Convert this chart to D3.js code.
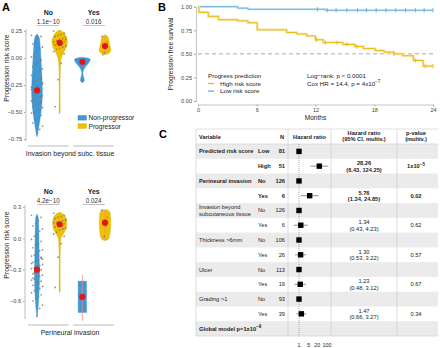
<!DOCTYPE html>
<html><head><meta charset="utf-8">
<script src="https://cdn.jsdelivr.net/npm/d3@7"></script>
<style>
body{margin:0;background:#fff}
svg{font-family:"Liberation Sans",Arial,sans-serif}
</style></head><body>
<script>
// ---------- panel A data ----------
const groupsA = ["No", "Yes"];
const classes = ["Non-progressor", "Progressor"];
const pInvasion = ["1.1e\u221210", "0.016"];
const pPerineural = ["4.2e\u221210", "0.024"];

// violin outlines: [score, relative width]
const invNoNonShape = [[0.22,0],[0.2,0.45],[0.1,0.6],[0,0.72],[-0.1,0.82],[-0.2,0.92],[-0.3,1],[-0.4,0.95],[-0.5,0.75],[-0.6,0.45],[-0.7,0.15],[-0.73,0]];
const invNoProShape = [[0.26,0],[0.24,0.5],[0.2,0.85],[0.15,1],[0.1,0.9],[0.05,0.45],[0,0.18],[-0.05,0.1],[-0.15,0.07],[-0.3,0.05],[-0.45,0.06],[-0.5,0.08],[-0.52,0]];
const invYesNonShape = [[0.005,0],[0.0,0.85],[-0.02,1],[-0.05,0.7],[-0.08,0.35],[-0.12,0.08],[-0.14,0.04],[-0.18,0.15],[-0.21,0.3],[-0.23,0]];
const invYesProShape = [[0.215,0],[0.2,0.55],[0.15,0.65],[0.1,0.85],[0.07,1],[0.045,0.8],[0.03,0]];
const perNoNonShape = [[0.23,0],[0.21,0.6],[0.1,0.65],[0,0.75],[-0.1,0.8],[-0.2,0.85],[-0.3,1],[-0.4,0.95],[-0.5,0.85],[-0.6,0.6],[-0.7,0.3],[-0.76,0]];
const perNoProShape = [[0.25,0],[0.23,0.6],[0.2,0.9],[0.15,1],[0.1,0.95],[0.05,0.6],[0.02,0.3],[0,0.14],[-0.1,0.09],[-0.2,0.07],[-0.35,0.06],[-0.47,0.07],[-0.5,0.1],[-0.52,0]];
const perYesNonShape = [[-0.41,1],[-0.71,1]];
const perYesProShape = [[0.275,0],[0.27,0.9],[0.2,0.95],[0.15,1],[0.08,0.95],[0.02,0.8],[-0.015,0.6],[-0.02,0]];

// individual scores (grey dots)
const invNoNonPts = [0.21,0.2,0.18,0.15,0.13,0.1,0.08,0.05,0.03,0.01,-0.02,-0.04,-0.06,-0.08,-0.1,-0.11,-0.13,-0.15,-0.16,-0.18,-0.2,-0.21,-0.22,-0.24,-0.25,-0.26,-0.28,-0.29,-0.3,-0.31,-0.32,-0.33,-0.35,-0.36,-0.37,-0.38,-0.4,-0.41,-0.42,-0.43,-0.45,-0.46,-0.47,-0.48,-0.5,-0.51,-0.53,-0.55,-0.57,-0.6,-0.63,-0.66,-0.7,-0.35,-0.27,-0.19,-0.44,-0.05,-0.39,-0.23];
const invNoProPts = [0.25,0.23,0.22,0.21,0.2,0.19,0.18,0.17,0.16,0.15,0.15,0.14,0.13,0.12,0.11,0.1,0.09,0.08,0.06,0.04,-0.05,-0.2,-0.45,0.17,0.13];
const invYesNonPts = [-0.01,-0.03,-0.21];
const invYesProPts = [0.2,0.15,0.1,0.05,0.03];
const perNoNonPts = [0.22,0.2,0.17,0.14,0.12,0.09,0.07,0.04,0.02,-0.01,-0.03,-0.05,-0.07,-0.09,-0.11,-0.12,-0.14,-0.16,-0.17,-0.19,-0.21,-0.22,-0.23,-0.25,-0.26,-0.27,-0.28,-0.29,-0.3,-0.31,-0.32,-0.34,-0.35,-0.36,-0.37,-0.39,-0.4,-0.41,-0.43,-0.44,-0.45,-0.46,-0.48,-0.49,-0.5,-0.52,-0.54,-0.56,-0.58,-0.6,-0.64,-0.67,-0.74,-0.33,-0.24,-0.18,-0.42,-0.06,-0.38,-0.2];
const perNoProPts = [0.24,0.22,0.21,0.2,0.19,0.18,0.17,0.16,0.15,0.15,0.14,0.13,0.12,0.11,0.1,0.09,0.08,0.06,0.04,0.02,-0.05,-0.18,-0.47,0.17,0.12];
const perYesNonPts = [-0.45,-0.66];
const perYesProPts = [0.27,0.2,0.12,0.02,0.15];

const invMeans = [-0.30, 0.14, -0.035, 0.11];
const perMeans = [-0.30, 0.135, -0.56, 0.15];
const perErrLo = [null, null, -0.79, -0.02];
const perErrHi = [null, null, -0.35, 0.27];
const invErrLo = [null, null, null, 0.03];
const invErrHi = [null, null, null, 0.2];

// ---------- panel B data ----------
const kmHighTime = [0, 0.1, 1.05, 2.1, 4.05, 5.1, 6.05, 9.05, 10.1, 11.1, 12, 12.8, 14.8, 16, 16.9, 18.1, 19, 20, 20.9, 22, 23, 24];
const kmHighSurv = [1, 0.94, 0.897, 0.862, 0.85, 0.83, 0.755, 0.727, 0.71, 0.69, 0.65, 0.62, 0.6, 0.578, 0.556, 0.535, 0.518, 0.5, 0.48, 0.43, 0.37, 0.37];
const kmHighCens = [12.1, 13, 14.2, 15.2, 16.2, 20, 22.2, 23.2, 24];
const kmLowTime = [0, 4.05, 5.1, 13, 24];
const kmLowSurv = [1, 0.985, 0.973, 0.963, 0.963];
const kmLowCens = [12.2, 13.2, 14.1, 15.2, 16.3, 17.2, 18.2, 19.2, 20.2, 21.2, 22.2, 23.1, 24];
const monthTicks = [0, 6, 12, 18, 24];
const survTicks = [0, 0.25, 0.5, 0.75, 1];

// ---------- panel C data ----------
const hrVars = ["Predicted risk score", "Perineural invasion", "Invasion beyond|subcutaneous tissue", "Thickness >6mm", "Ulcer", "Grading >1"];
const hrLevels = [["Low","High"],["No","Yes"],["No","Yes"],["No","Yes"],["No","Yes"],["No","Yes"]];
const hrN = [[81,51],[126,6],[126,6],[106,26],[113,19],[93,39]];
const hrEst = [28.26, 5.76, 1.34, 1.30, 1.23, 1.47];
const hrLo = [6.43, 1.34, 0.43, 0.53, 0.48, 0.66];
const hrHi = [124.25, 24.85, 4.23, 3.22, 3.12, 3.27];
const hrP = [["1x10", "\u22125"], ["0.02"], ["0.62"], ["0.57"], ["0.67"], ["0.34"]];
const hrBold = [true, true, false, false, false, false];
const hrTicks = [1, 5, 20, 100];

const BLUE = "#3d9ad8", YELLOW = "#efc000", RED = "#e3161d";

const svg = d3.select("body").append("svg").attr("width", 440).attr("height", 348);

// ================= panel A =================
const subs = ["No|Non","No|Pro","Yes|Non","Yes|Pro"];
const xA = d3.scalePoint().domain(subs).range([37, 105]);
// jitter half-widths per violin (No groups wider)
const jitterW = [5.5, 6, 3, 3];

function violinPanel(opt) {
  const g = svg.append("g");
  const y = d3.scaleLinear().domain(opt.domain).range(opt.range);
  // axis
  const ax = g.append("g").attr("transform", `translate(${opt.axisX},0)`)
    .call(d3.axisLeft(y).tickValues(opt.ticks).tickFormat(d3.format(opt.fmt)).tickSize(2).tickPadding(2));
  ax.select(".domain").remove();
  ax.selectAll(".tick line").attr("stroke", "#aaa");
  ax.selectAll("text").attr("font-size", 5.6).attr("fill", "#444");
  g.append("line").attr("x1", opt.axisX).attr("x2", opt.axisX)
    .attr("y1", opt.axisTop).attr("y2", opt.axisBot).attr("stroke", "#c8c8c8").attr("stroke-width", 1.2);
  g.append("text").attr("transform", `translate(9,${opt.titleY}) rotate(-90)`)
    .attr("text-anchor", "middle").attr("font-size", 6.8).attr("fill", "#222").text("Progression risk score");

  // group headers, brackets, base lines
  groupsA.forEach((grp, gi) => {
    const x0 = xA(grp + "|Non"), x1 = xA(grp + "|Pro");
    const cx = (x0 + x1) / 2;
    g.append("text").attr("x", cx).attr("y", opt.headY).attr("text-anchor", "middle")
      .attr("font-size", 7).attr("font-weight", "bold").attr("fill", "#222").text(grp);
    g.append("text").attr("x", cx).attr("y", opt.headY + 8.5).attr("text-anchor", "middle")
      .attr("font-size", 6.3).attr("fill", "#333").text(opt.pvals[gi]);
    g.append("line").attr("x1", x0).attr("x2", x1).attr("y1", opt.headY + 10.5).attr("y2", opt.headY + 10.5)
      .attr("stroke", "#999").attr("stroke-width", 0.6);
    g.append("line").attr("x1", x0 - 9).attr("x2", x1 + 9).attr("y1", opt.baseY).attr("y2", opt.baseY)
      .attr("stroke", "#bbb").attr("stroke-width", 1);
  });
  g.append("text").attr("x", 70).attr("y", opt.baseY + 9.5).attr("text-anchor", "middle")
    .attr("font-size", 6.9).attr("fill", "#222").text(opt.xTitle);

  opt.shapes.forEach((shape, i) => {
    const cx = xA(subs[i]);
    const col = i % 2 === 0 ? BLUE : YELLOW;
    const area = d3.area().curve(shape.length > 2 ? d3.curveBasis : d3.curveLinear)
      .x0(d => cx - d[1] * opt.halfW[i]).x1(d => cx + d[1] * opt.halfW[i]).y(d => y(d[0]));
    g.append("path").attr("d", area(shape)).attr("fill", col)
      .attr("stroke", d3.color(col).darker(0.4)).attr("stroke-width", 0.35);
    if (opt.errLo[i] !== null) {
      g.append("line").attr("x1", cx).attr("x2", cx).attr("y1", y(opt.errLo[i])).attr("y2", y(opt.errHi[i]))
        .attr("stroke", "#f08a8a").attr("stroke-opacity", 0.7).attr("stroke-width", 1.1);
    }
    opt.points[i].forEach((v, k) => {
      const j = ((k * 7) % 9 - 4) / 4;
      g.append("circle").attr("cx", cx + j * jitterW[i]).attr("cy", y(v)).attr("r", 0.85)
        .attr("fill", "#807868").attr("fill-opacity", 0.85);
    });
    g.append("circle").attr("cx", cx).attr("cy", y(opt.means[i])).attr("r", 3.1).attr("fill", RED);
  });
  return g;
}

violinPanel({
  domain: [-0.75, 0.25], range: [139, 31], ticks: [0.25, 0, -0.25, -0.5, -0.75], fmt: ".2f",
  axisX: 26, axisTop: 29, axisBot: 141, titleY: 68, headY: 15, pvals: pInvasion, baseY: 146,
  xTitle: "Invasion beyond subc. tissue",
  shapes: [invNoNonShape, invNoProShape, invYesNonShape, invYesProShape],
  halfW: [5.5, 8, 8.5, 6.2],
  points: [invNoNonPts, invNoProPts, invYesNonPts, invYesProPts],
  means: invMeans, errLo: invErrLo, errHi: invErrHi
});

violinPanel({
  domain: [-0.6, 0.3], range: [301, 207], ticks: [0.3, 0, -0.3, -0.6], fmt: ".1f",
  axisX: 25, axisTop: 205, axisBot: 319, titleY: 245, headY: 194, pvals: pPerineural, baseY: 325,
  xTitle: "Perineural invasion",
  shapes: [perNoNonShape, perNoProShape, perYesNonShape, perYesProShape],
  halfW: [2.6, 7.2, 4.2, 5.8],
  points: [perNoNonPts, perNoProPts, perYesNonPts, perYesProPts],
  means: perMeans, errLo: perErrLo, errHi: perErrHi
});

// legend A
classes.forEach((c, i) => {
  svg.append("rect").attr("x", 78).attr("y", 115.5 + i * 8.3).attr("width", 8.5).attr("height", 4.6)
    .attr("fill", i === 0 ? BLUE : YELLOW).attr("stroke", d3.color(i === 0 ? BLUE : YELLOW).darker(0.4)).attr("stroke-width", 0.4);
  svg.append("text").attr("x", 88.5).attr("y", 120.3 + i * 8.3).attr("font-size", 6.6).attr("fill", "#222").text(c);
});

// panel letters
svg.append("text").attr("x", 2).attr("y", 11).attr("font-size", 11).attr("font-weight", "bold").text("A");
svg.append("text").attr("x", 158).attr("y", 11).attr("font-size", 11).attr("font-weight", "bold").text("B");
svg.append("text").attr("x", 159).attr("y", 138).attr("font-size", 11).attr("font-weight", "bold").text("C");

// ================= panel B =================
const xB = d3.scaleLinear().domain([0, 24]).range([198, 433]);
const yB = d3.scaleLinear().domain([0, 1]).range([101, 6.7]);
const gB = svg.append("g");
const axY = gB.append("g").attr("transform", "translate(196,0)")
  .call(d3.axisLeft(yB).tickValues(survTicks).tickFormat(d3.format(".2f")).tickSize(2).tickPadding(2));
const axX = gB.append("g").attr("transform", "translate(0,104.5)")
  .call(d3.axisBottom(xB).tickValues(monthTicks).tickSize(2).tickPadding(1.5));
[axY, axX].forEach(a => {
  a.select(".domain").attr("stroke", "#c8c8c8").attr("stroke-width", 1.1);
  a.selectAll(".tick line").attr("stroke", "#aaa");
  a.selectAll("text").attr("font-size", 5.6).attr("fill", "#444");
});
gB.append("text").attr("x", xB(12)).attr("y", 120).attr("text-anchor", "middle").attr("font-size", 6.6).attr("fill", "#222").text("Months");
gB.append("text").attr("transform", "translate(173,54) rotate(-90)").attr("text-anchor", "middle")
  .attr("font-size", 6.6).attr("fill", "#222").text("Progression free survival");
gB.append("line").attr("x1", xB(0)).attr("x2", xB(24)).attr("y1", yB(0.5)).attr("y2", yB(0.5))
  .attr("stroke", "#999").attr("stroke-dasharray", "4,3").attr("stroke-width", 0.8);

function km(times, surv, cens, col, halo) {
  const pts = times.map((t, i) => [t, surv[i]]);
  const line = d3.line().curve(d3.curveStepAfter).x(d => xB(d[0])).y(d => yB(d[1]));
  gB.append("path").attr("d", line(pts)).attr("fill", "none").attr("stroke", halo).attr("stroke-width", 2.6);
  gB.append("path").attr("d", line(pts)).attr("fill", "none").attr("stroke", col).attr("stroke-width", 0.9);
  const sAt = t => { let s = surv[0]; times.forEach((tt, i) => { if (tt <= t) s = surv[i]; }); return s; };
  cens.forEach(t => {
    gB.append("line").attr("x1", xB(t)).attr("x2", xB(t)).attr("y1", yB(sAt(t)) - 2.2).attr("y2", yB(sAt(t)) + 2.2)
      .attr("stroke", col).attr("stroke-width", 0.8);
  });
}
km(kmLowTime, kmLowSurv, kmLowCens, "#5aa8e0", "#dbeaf6");
km(kmHighTime, kmHighSurv, kmHighCens, "#e8b800", "#f7e7b0");

// legend B
gB.append("text").attr("x", 208).attr("y", 77.5).attr("font-size", 6.2).attr("fill", "#222").text("Progress prediction");
[["High risk score", "#e8b800"], ["Low risk score", "#5aa8e0"]].forEach((d, i) => {
  gB.append("line").attr("x1", 208).attr("x2", 214).attr("y1", 83.5 + i * 7.6).attr("y2", 83.5 + i * 7.6)
    .attr("stroke", d[1]).attr("stroke-width", 1.2);
  gB.append("text").attr("x", 220).attr("y", 85.8 + i * 7.6).attr("font-size", 6.2).attr("fill", "#222").text(d[0]);
});
gB.append("text").attr("x", 307).attr("y", 78).attr("font-size", 6.2).attr("fill", "#222").text("Log\u2212rank: p < 0.0001");
const cox = gB.append("text").attr("x", 307).attr("y", 85.5).attr("font-size", 6.2).attr("fill", "#222");
cox.append("tspan").text("Cox HR = 14.4, p = 4x10");
cox.append("tspan").attr("dy", -2.5).attr("font-size", 4.6).text("\u22127");

// ================= panel C =================
const gC = svg.append("g").attr("fill", "#222");
const T = { left: 196, right: 438, top: 129, headBot: 144, rowH: 14.77 };
const rowY = i => T.headBot + i * T.rowH;
const nRows = hrVars.length * 2 + 1;
for (let i = 0; i < nRows; i++) {
  if (i % 2 === 0) gC.append("rect").attr("x", T.left).attr("y", rowY(i)).attr("width", T.right - T.left)
    .attr("height", T.rowH).attr("fill", "#ebebeb");
}
const tableBot = rowY(nRows);
gC.append("line").attr("x1", T.left).attr("x2", T.right).attr("y1", T.top).attr("y2", T.top).attr("stroke", "#ccc").attr("stroke-width", 0.6);
gC.append("line").attr("x1", T.left).attr("x2", T.right).attr("y1", T.headBot).attr("y2", T.headBot).attr("stroke", "#ccc").attr("stroke-width", 0.6);
gC.append("line").attr("x1", T.left).attr("x2", T.right).attr("y1", tableBot).attr("y2", tableBot).attr("stroke", "#ccc").attr("stroke-width", 0.6);
[T.left, 288, 331, 397].forEach(x => {
  gC.append("line").attr("x1", x).attr("x2", x).attr("y1", T.top).attr("y2", tableBot).attr("stroke", "#c8c8c8").attr("stroke-width", 0.6);
});

const fs = 5.7;
function txt(x, y, s, anchor, bold, size) {
  return gC.append("text").attr("x", x).attr("y", y).attr("text-anchor", anchor || "start")
    .attr("font-size", size || fs).attr("font-weight", bold ? "bold" : "normal").text(s);
}
// header
txt(199, 138.5, "Variable", "start", true);
txt(282, 138.5, "N", "middle", true);
txt(309.5, 138.5, "Hazard ratio", "middle", true);
txt(364, 134.5, "Hazard ratio", "middle", true);
txt(364, 141, "(95% CI, multiv.)", "middle", true);
txt(416, 134.5, "p-value", "middle", true);
txt(416, 141, "(multiv.)", "middle", true);

const xF = d3.scaleLog().domain([1, 100]).range([299, 327]);
gC.append("line").attr("x1", xF(1)).attr("x2", xF(1)).attr("y1", T.headBot).attr("y2", tableBot)
  .attr("stroke", "#777").attr("stroke-width", 0.6).attr("stroke-dasharray", "1,1");
hrTicks.forEach(t => txt(xF(t), 346.5, String(t), "middle", false, 5.3));

hrVars.forEach((v, k) => {
  const b = hrBold[k];
  const r0 = rowY(2 * k) + T.rowH / 2, r1 = rowY(2 * k + 1) + T.rowH / 2;
  const lines = v.split("|");
  if (lines.length === 1) txt(199, r0 + 2, v, "start", b);
  else lines.forEach((l, li) => txt(199, r0 - 1.5 + li * 6.8, l, "start", b));
  [r0, r1].forEach((ry, li) => {
    txt(258, ry + 2, hrLevels[k][li], "start", b);
    txt(285, ry + 2, hrN[k][li], "end", b);
  });
  // reference square
  const sq = 5.4;
  gC.append("rect").attr("x", xF(1) - sq / 2).attr("y", r0 - sq / 2).attr("width", sq).attr("height", sq).attr("fill", "#000");
  // estimate
  gC.append("line").attr("x1", xF(hrLo[k])).attr("x2", xF(hrHi[k])).attr("y1", r1).attr("y2", r1).attr("stroke", "#444").attr("stroke-width", 0.6);
  gC.append("rect").attr("x", xF(hrEst[k]) - sq / 2).attr("y", r1 - sq / 2).attr("width", sq).attr("height", sq).attr("fill", "#000");
  txt(364, r1 - 1, hrEst[k].toFixed(2), "middle", b);
  txt(364, r1 + 5.5, `(${hrLo[k].toFixed(2)}, ${hrHi[k].toFixed(2)})`, "middle", b);
  const pt = txt(416, r1 + 2, hrP[k][0], "middle", b);
  if (hrP[k][1]) pt.append("tspan").attr("dy", -2.5).attr("font-size", 4.5).text(hrP[k][1]);
});
const gm = txt(199, rowY(12) + T.rowH / 2 + 2, "Global model p=1x10", "start", true);
gm.append("tspan").attr("dy", -2.5).attr("font-size", 4.5).text("\u22129");
</script>
</body></html>
